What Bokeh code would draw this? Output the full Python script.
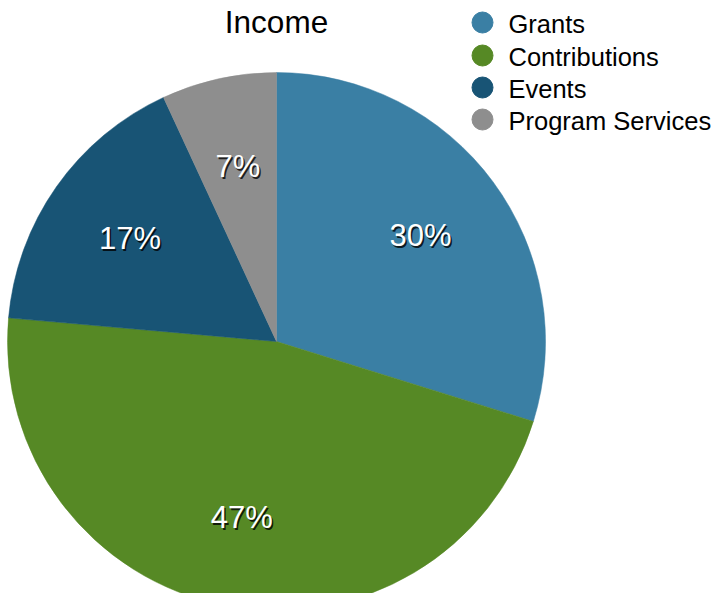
import math
from bokeh.plotting import figure
from bokeh.models import Range1d, ColumnDataSource, Label
from bokeh.core.properties import value
from bokeh.embed import file_html
from bokeh.resources import INLINE

categories = ["Grants", "Contributions", "Events", "Program Services"]
shares = [29.8, 46.6, 16.7, 6.9]
labels = ["30%", "47%", "17%", "7%"]
colors = ["#3a7fa4", "#568925", "#185475", "#8e8e8e"]
title_text = "Income"

W, H = 715, 593
FONT = "Liberation Sans"

p = figure(width=W, height=H, output_backend="svg", toolbar_location=None,
           x_range=Range1d(0, W), y_range=Range1d(0, H), min_border=0)
p.axis.visible = False
p.grid.visible = False
p.outline_line_color = None
p.background_fill_color = "white"

cx, cy, R = 276, 252, 269
total = sum(shares)
starts, ends, lx, ly = [], [], [], []
cum = 0.0
for s in shares:
    a0 = math.pi / 2 - 2 * math.pi * cum / total
    a1 = math.pi / 2 - 2 * math.pi * (cum + s) / total
    starts.append(a0)
    ends.append(a1)
    mid = (a0 + a1) / 2
    lx.append(cx + 0.665 * R * math.cos(mid))
    ly.append(cy + 0.665 * R * math.sin(mid))
    cum += s

src = ColumnDataSource(dict(cat=categories, start=starts, end=ends, color=colors,
                            lx=lx, ly=ly, lab=labels,
                            sx=[x + 1.5 for x in lx], sy=[y - 2 for y in ly]))

p.wedge(x=cx, y=cy, radius=R, start_angle="start", end_angle="end",
        direction="clock", fill_color="color", line_color="color", line_width=0.5,
        source=src)

# label shadow
p.text(x="sx", y="sy", text="lab", source=src, text_color="#000000", text_alpha=0.8,
       text_font=value(FONT), text_font_size="31px", text_align="center",
       text_baseline="middle")
p.text(x="lx", y="ly", text="lab", source=src, text_color="white",
       text_font=value(FONT), text_font_size="31px", text_align="center",
       text_baseline="middle")

# title
p.add_layout(Label(x=cx, y=572, text=title_text, text_font=FONT, text_font_size="31.5px",
                   text_align="center", text_baseline="middle", text_color="black"))

# legend
leg_y = [571, 538, 506, 474]
leg = ColumnDataSource(dict(x=[482] * 4, y=leg_y, tx=[508] * 4,
                            ty=[y - 1 for y in leg_y], cat=categories, color=colors))
p.scatter(x="x", y="y", source=leg, size=21, marker="circle", fill_color="color",
          line_color="color")
p.text(x="tx", y="ty", text="cat", source=leg, text_font=value(FONT),
       text_font_size="25.5px", text_color="black", text_align="left",
       text_baseline="middle")

open("out.html", "w").write(file_html(p, INLINE))
